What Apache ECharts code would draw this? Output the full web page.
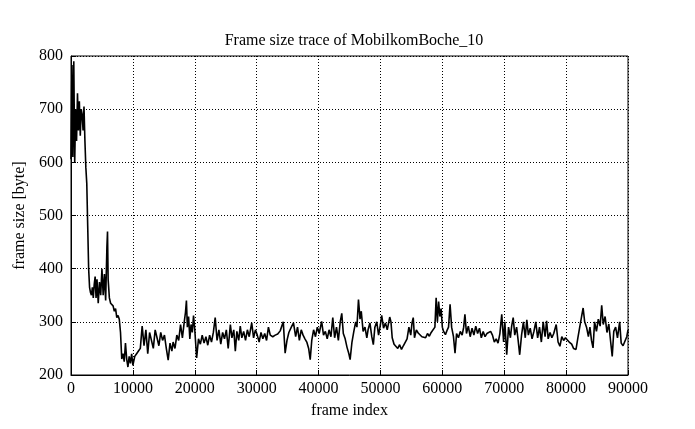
<!DOCTYPE html>
<html>
<head>
<meta charset="utf-8">
<script src="https://cdn.jsdelivr.net/npm/echarts@6/dist/echarts.min.js"></script>
<style>html,body{margin:0;padding:0;background:#fff}#c{width:695px;height:429px}</style>
</head>
<body>
<div id="c"></div>
<script>
const titleText = 'Frame size trace of MobilkomBoche_10';
const xName = 'frame index';
const yName = 'frame size [byte]';
const xTicks = [0, 10000, 20000, 30000, 40000, 50000, 60000, 70000, 80000, 90000];
const yTicks = [200, 300, 400, 500, 600, 700, 800];

const frames = [
0,150,300,450,600,750,900,1050,1200,1350,1500,1650,1800,1950,2100,2250,2400,2550,2700,2850,3000,3150,3300,3450,3600,3750,3900,4050,
4200,4400,4600,4800,5000,5200,5400,5600,5800,5900,6000,6200,6400,6600,6800,7000,7200,7400,7600,7800,8000,8200,8400,8600,8800,9000,9200,9400,9600,9800,
10000,10300,10600,10900,11200,11500,11800,12100,12400,12700,13000,13300,13600,13900,14200,14500,14800,15100,15400,15700,16000,16300,
16500,16800,17100,17400,17700,18000,18300,18500,18650,18800,19000,19200,19400,19600,19800,20000,20300,20600,20900,21200,21500,21800,22100,22400,22700,23000,23300,23600,23900,24200,24500,24800,25100,25400,25750,26000,26300,26550,26800,27100,27350,27600,27900,28200,28500,28800,29200,29500,29800,
30100,30400,30700,31000,31300,31600,31900,32200,32600,33000,33400,33800,34300,34600,34900,35200,35600,35950,36300,36600,36900,37200,37500,37800,38100,38400,38650,38900,39200,39500,39800,
40100,40500,40800,41100,41400,41700,42000,42300,42600,42900,43200,43500,43750,44000,44300,44600,44900,45100,45400,45700,46000,46200,46450,46700,46900,47200,47500,47800,48000,48300,48600,48850,49100,49400,49700,
50000,50200,50500,50800,51100,51500,51700,51900,52200,52500,52800,53100,53400,53700,54000,54300,54600,54900,55100,55300,55500,55800,56100,56400,56700,57000,57300,57600,57900,58200,58500,58800,59000,59200,59400,59600,59800,
60000,60200,60500,60800,61000,61250,61500,61800,62050,62300,62600,62900,63200,63450,63650,63900,64200,64500,64800,65100,65400,65700,66000,66300,66600,66900,67200,67500,67800,68100,68400,68700,69000,69300,69600,69900,
70100,70400,70700,71000,71200,71450,71700,72000,72250,72500,72800,73100,73400,73650,73900,74200,74500,74800,75100,75400,75700,76000,76300,76600,76850,77100,77400,77700,78000,78400,78700,79000,79300,79600,79900,
80200,80500,80900,81200,81600,81900,82200,82500,82750,83000,83300,83600,83850,84100,84350,84600,84900,85200,85500,85750,86000,86300,86600,86900,87200,87450,87700,88000,88300,88650,88900,89200,89500,89800,90000
];
const sizes = [
606,783,610,790,600,700,640,730,660,715,650,700,690,660,705,640,590,560,480,400,365,355,350,365,345,370,385,345,
380,335,375,350,400,350,390,340,440,470,380,345,335,335,330,320,325,308,312,305,280,230,240,225,260,230,215,235,222,240,
218,235,240,245,250,292,255,285,240,280,265,250,285,270,255,280,265,275,250,228,260,245,
262,250,275,265,295,270,300,318,340,290,310,268,295,280,312,285,232,268,258,275,260,272,256,275,262,280,308,265,285,258,280,268,285,250,295,270,285,245,282,265,292,270,282,265,285,272,298,270,285,
275,262,280,268,278,265,290,275,272,275,277,283,300,241,265,280,290,298,272,290,265,285,275,268,262,250,229,265,285,272,290,
278,301,275,282,268,285,272,308,270,290,265,300,316,278,268,252,240,229,262,282,300,290,342,305,320,282,290,270,285,298,272,257,290,300,275,
295,312,288,298,285,309,300,270,258,255,250,257,248,255,252,268,290,275,298,308,270,285,279,276,272,275,270,278,273,280,283,290,345,300,338,310,325,
290,282,276,285,290,333,290,272,241,278,270,282,275,290,314,278,292,272,288,275,292,278,288,270,282,272,278,276,282,275,262,268,260,278,314,262,
300,238,290,270,292,308,275,290,265,238,275,300,270,304,275,288,268,282,300,270,290,262,300,272,302,268,280,270,278,295,262,254,272,265,270,
266,262,258,250,248,270,290,310,326,300,290,272,290,265,251,300,282,305,292,331,295,310,280,296,262,235,282,290,270,300,260,255,258,272,285
];

const seriesData = frames.map((f, i) => [f, sizes[i]]);
const font = '"Liberation Serif", "Times New Roman", serif';

const chart = echarts.init(document.getElementById('c'), null, {renderer: 'canvas'});
chart.setOption({
  animation: false,
  backgroundColor: '#fff',
  title: {
    text: titleText, left: 349, top: 28, textAlign: 'center',
    textStyle: {fontFamily: font, fontSize: 16, fontWeight: 'normal', color: '#000'}
  },
  grid: {left: 71, right: 67, top: 56, bottom: 54, show: true, borderColor: '#000', borderWidth: 1, backgroundColor: 'transparent'},
  xAxis: {
    type: 'value', min: xTicks[0], max: xTicks[xTicks.length - 1], interval: xTicks[1] - xTicks[0],
    name: xName, nameLocation: 'middle', nameGap: 28,
    nameTextStyle: {fontFamily: font, fontSize: 16, color: '#000'},
    axisLine: {show: true, lineStyle: {color: '#000', width: 1}},
    axisTick: {show: true, inside: true, length: 5, lineStyle: {color: '#000'}},
    axisLabel: {fontFamily: font, fontSize: 16, color: '#000', margin: 6, formatter: v => String(v)},
    splitLine: {show: true, lineStyle: {color: '#000', width: 1, type: [1, 2]}}
  },
  yAxis: {
    type: 'value', min: yTicks[0], max: yTicks[yTicks.length - 1], interval: yTicks[1] - yTicks[0],
    name: yName, nameLocation: 'middle', nameGap: 43, nameRotate: 90,
    nameTextStyle: {fontFamily: font, fontSize: 16, color: '#000'},
    axisLine: {show: true, lineStyle: {color: '#000', width: 1}},
    axisTick: {show: true, inside: true, length: 5, lineStyle: {color: '#000'}},
    axisLabel: {fontFamily: font, fontSize: 16, color: '#000', margin: 8, formatter: v => String(v)},
    splitLine: {show: true, lineStyle: {color: '#000', width: 1, type: [1, 2]}}
  },
  series: [{
    type: 'line', data: seriesData, showSymbol: false, symbol: 'none',
    lineStyle: {color: '#000', width: 1.6}, z: 3
  }]
});
</script>
</body>
</html>
